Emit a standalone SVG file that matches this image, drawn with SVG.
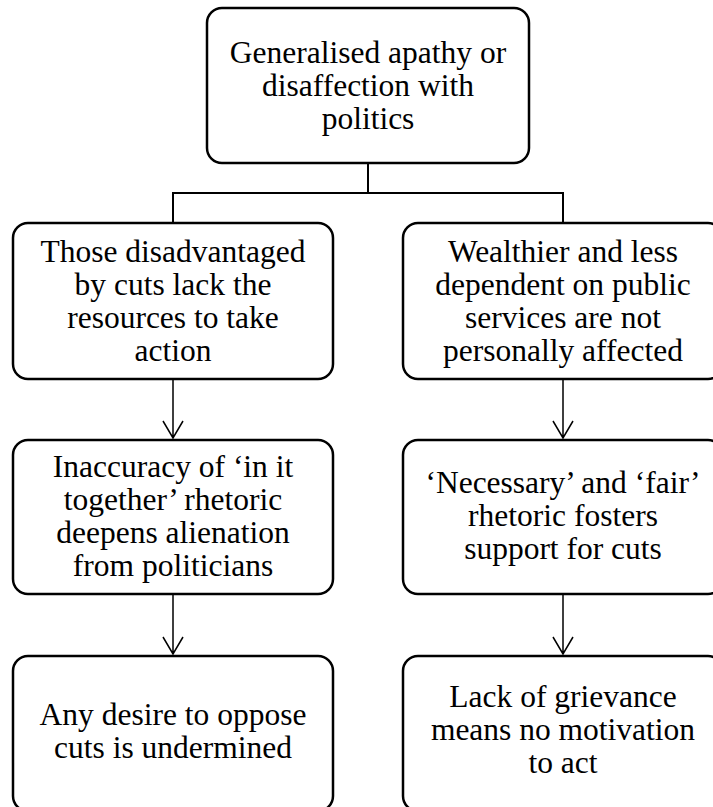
<svg xmlns="http://www.w3.org/2000/svg" width="713" height="807" viewBox="0 0 713 807">
<style>
.box{fill:#fff;stroke:#000;stroke-width:2.5}
.t{font-family:'Liberation Serif','Times New Roman',serif;font-size:31.5px;fill:#000;text-anchor:middle}
.tree{fill:none;stroke:#000;stroke-width:2}
.arr{fill:none;stroke:#000;stroke-width:1.5}
</style>
<rect width="713" height="807" fill="#fff"/>
<g id="connectors">
<path class="tree" d="M368,163 V193 M173,193 H563 M173,192 V223 M563,192 V223"/>
<path class="arr" d="M173,379 V438 M163,421 L173,438 L183,421"/>
<path class="arr" d="M173,594 V654 M163,637 L173,654 L183,637"/>
<path class="arr" d="M563,379 V438 M553,421 L563,438 L573,421"/>
<path class="arr" d="M563,594 V654 M553,637 L563,654 L573,637"/>
</g>
<g id="n0">
<rect class="box" x="207" y="8" width="322" height="155" rx="15"/>
<text class="t" x="368" y="63">Generalised apathy or</text>
<text class="t" x="368" y="96">disaffection with</text>
<text class="t" x="368" y="129">politics</text>
</g>
<g id="n1">
<rect class="box" x="13" y="223" width="320" height="156" rx="15"/>
<text class="t" x="173" y="262">Those disadvantaged</text>
<text class="t" x="173" y="295">by cuts lack the</text>
<text class="t" x="173" y="328">resources to take</text>
<text class="t" x="173" y="361">action</text>
</g>
<g id="n2">
<rect class="box" x="403" y="223" width="320" height="156" rx="15"/>
<text class="t" x="563" y="262">Wealthier and less</text>
<text class="t" x="563" y="295">dependent on public</text>
<text class="t" x="563" y="328">services are not</text>
<text class="t" x="563" y="361">personally affected</text>
</g>
<g id="n3">
<rect class="box" x="13" y="440" width="320" height="154" rx="15"/>
<text class="t" x="173" y="477">Inaccuracy of ‘in it</text>
<text class="t" x="173" y="510">together’ rhetoric</text>
<text class="t" x="173" y="543">deepens alienation</text>
<text class="t" x="173" y="576">from politicians</text>
</g>
<g id="n4">
<rect class="box" x="403" y="440" width="320" height="154" rx="15"/>
<text class="t" x="563" y="493">‘Necessary’ and ‘fair’</text>
<text class="t" x="563" y="526">rhetoric fosters</text>
<text class="t" x="563" y="559">support for cuts</text>
</g>
<g id="n5">
<rect class="box" x="13" y="656" width="320" height="155" rx="15"/>
<text class="t" x="173" y="725">Any desire to oppose</text>
<text class="t" x="173" y="758">cuts is undermined</text>
</g>
<g id="n6">
<rect class="box" x="403" y="656" width="320" height="155" rx="15"/>
<text class="t" x="563" y="707">Lack of grievance</text>
<text class="t" x="563" y="740">means no motivation</text>
<text class="t" x="563" y="773">to act</text>
</g>
</svg>
